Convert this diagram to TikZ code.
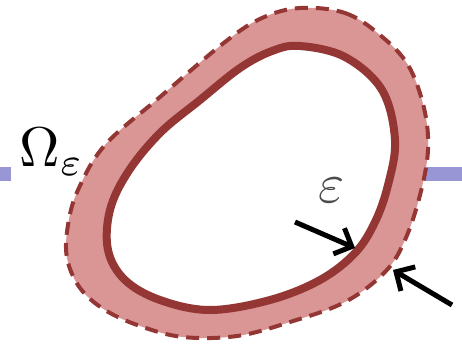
\documentclass[tikz,border=0pt]{standalone}
\usepackage{amsmath,amssymb}
\usetikzlibrary{arrows.meta}
\definecolor{bandpink}{HTML}{D99694}
\definecolor{rimred}{HTML}{943634}
\definecolor{axisblue}{HTML}{9896D4}

\begin{document}
\begin{tikzpicture}[x=1pt, y=-1pt, >={Straight Barb[length=14pt,width=28pt]},
    band/.style={fill=bandpink, draw=rimred, line width=4pt, dash pattern=on 13pt off 8pt},
    rim/.style={fill=white, draw=rimred, line width=8pt},
    ptr/.style={->, line width=5pt, black},
    lbl/.style={scale=5.6, inner sep=0pt}
]
    \useasboundingbox (0,0) rectangle (462,347);
    \draw[axisblue, line width=14pt] (0,174) -- (462,174);
    \node[lbl, fill=white, inner sep=1.5pt, anchor=base] (omega) at (52,167) {$\Omega_\varepsilon$};
    % outer boundary, dashed
    \draw[band] plot[smooth cycle, tension=0.6] coordinates {
        (300,8) (345,13) (380,35) (408,65) (424,108) (428,150) (420,195)
        (405,240) (385,272) (345,302) (290,322) (237,336) (183,337) (140,326)
        (105,310) (80,288) (67,258) (68,225) (78,190) (105,145) (160,97)
        (225,42) (262,18)};
    % inner boundary
    \draw[rim] plot[smooth cycle, tension=0.6] coordinates {
        (300,46) (345,57) (382,90) (395,140) (388,185) (375,222) (355,253)
        (320,280) (270,300) (210,310) (160,300) (125,280) (108,250) (110,210)
        (128,172) (160,133) (200,100) (240,68) (272,51)};
    \node[lbl, text=black!70, anchor=base] (eps) at (332,202) {$\varepsilon$};
    \coordinate (a1) at (295,222);
    \coordinate (b1) at (355,248);
    \coordinate (a2) at (452,305);
    \coordinate (b2) at (393,270);
    \draw[ptr] (a1) -- (b1);
    \draw[ptr] (a2) -- (b2);
\end{tikzpicture}
\end{document}
